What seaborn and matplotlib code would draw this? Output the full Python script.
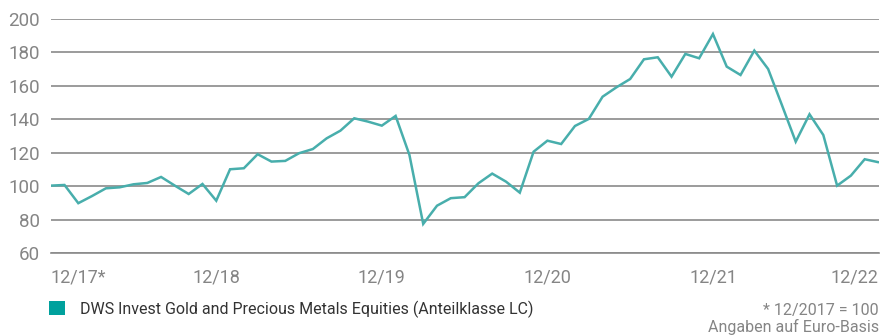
import matplotlib
matplotlib.use("Agg")
import matplotlib.pyplot as plt
from matplotlib.patches import Patch
import numpy as np
import pandas as pd
import seaborn as sns

# Monthly index values, 12/2017 = 100 (Dec 2017 .. Dec 2022)
values = [
    100.3, 100.7, 89.8, 94.1, 98.7, 99.3, 101.1, 101.9, 105.5, 100.3, 95.3, 101.3,
    91.3, 110.1, 110.7, 119.1, 114.7, 115.1, 119.7, 122.2, 128.6, 133.2, 140.6, 138.6,
    136.2, 142.0, 118.7, 77.4, 88.3, 92.8, 93.4, 101.7, 107.5, 102.7, 96.1, 120.6,
    127.2, 125.2, 136.0, 140.2, 153.5, 159.1, 164.1, 175.9, 177.1, 165.5, 179.1, 176.5,
    191.0, 171.5, 166.5, 181.1, 170.1, 148.5, 126.6, 143.0, 130.6, 100.3, 106.3, 116.1,
    114.3,
]
tick_months = [0, 12, 24, 36, 48, 60]
tick_labels = ["12/17*", "12/18", "12/19", "12/20", "12/21", "12/22"]
y_ticks = [60, 80, 100, 120, 140, 160, 180, 200]
series_name = "DWS Invest Gold and Precious Metals Equities (Anteilklasse LC)"
note_lines = ["* 12/2017 = 100", "Angaben auf Euro-Basis"]

LINE = "#48aeac"
SWATCH = "#00a19d"
GRID = "#8a8a8a"
LABEL = "#858585"
TEXT = "#333333"

sns.set_style("white")
plt.rcParams["font.family"] = ["Roboto", "DejaVu Sans"]

df = pd.DataFrame({"month": np.arange(len(values)), "value": values})

W, H = 880, 336
fig = plt.figure(figsize=(W / 100, H / 100), dpi=100)
ax = fig.add_axes([50.7 / W, 1 - 253 / H, (878.5 - 50.7) / W, (253 - 19) / H])

sns.lineplot(data=df, x="month", y="value", ax=ax, color=LINE, linewidth=1.8,
             solid_joinstyle="miter", zorder=3)

ax.set_xlim(0, 60)
ax.set_ylim(60, 200)
ax.set_xlabel("")
ax.set_ylabel("")

ax.set_yticks(y_ticks)
ax.set_yticklabels([str(v) for v in y_ticks])
ax.yaxis.grid(True, color=GRID, linewidth=1.2)
ax.xaxis.grid(False)
ax.tick_params(axis="y", length=0, pad=8, labelsize=13.5, labelcolor=LABEL)

ax.set_xticks(tick_months)
ax.set_xticklabels(tick_labels)
ax.tick_params(axis="x", direction="out", length=6.5, width=1.2, color=GRID,
               pad=4.5, labelsize=13, labelcolor=LABEL)
xt = ax.get_xticklabels()
xt[0].set_ha("left")
xt[-1].set_ha("right")

for side in ("left", "right", "top"):
    ax.spines[side].set_visible(False)
ax.spines["bottom"].set_color(GRID)
ax.spines["bottom"].set_linewidth(1.2)

handle = Patch(facecolor=SWATCH, edgecolor="none")
fig.legend([handle], [series_name], loc="center left",
           bbox_to_anchor=(49 / W, 1 - 309 / H), frameon=False,
           handlelength=1.0, handleheight=1.0, handletextpad=0.95,
           borderpad=0, borderaxespad=0, fontsize=11.5, labelcolor=TEXT)

fig.text(879 / W, 1 - 311 / H, note_lines[0], ha="right", va="center",
         fontsize=11.5, color=LABEL)
fig.text(879 / W, 1 - 327 / H, note_lines[1], ha="right", va="center",
         fontsize=11.5, color=LABEL)

fig.savefig("out.png", dpi=100)
